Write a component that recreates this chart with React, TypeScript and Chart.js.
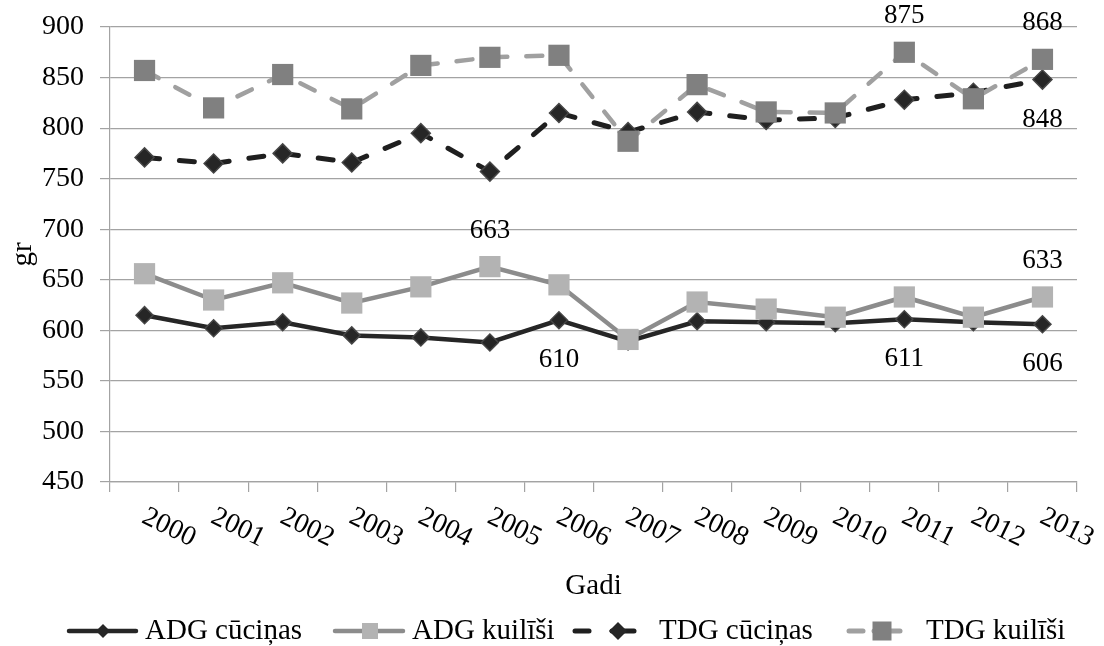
import React, { useEffect, useRef } from 'react';
import { Chart, registerables } from 'chart.js';

Chart.register(...registerables);

// ---- Data ----
const years = ['2000', '2001', '2002', '2003', '2004', '2005', '2006', '2007', '2008', '2009', '2010', '2011', '2012', '2013'];
const seriesNames = ['ADG cūciņas', 'ADG kuilīši', 'TDG cūciņas', 'TDG kuilīši'];
const adgCucinas = [615, 602, 608, 595, 593, 588, 610, 589, 609, 608, 607, 611, 608, 606];
const adgKuilisi = [656, 630, 647, 627, 643, 663, 645, 591, 628, 621, 613, 633, 613, 633];
const tdgCucinas = [771, 765, 775, 766, 795, 757, 815, 796, 816, 808, 810, 828, 835, 848];
const tdgKuilisi = [857, 820, 853, 819, 862, 870, 872, 787, 843, 816, 815, 875, 829, 868];
const yTickValues = [450, 500, 550, 600, 650, 700, 750, 800, 850, 900];
const xTitle = 'Gadi';
const yTitle = 'gr';
// data labels: series index, category index, placement
const labelSeries = [1, 0, 0, 0, 1, 3, 3, 2];
const labelIndex = [5, 6, 11, 13, 13, 11, 13, 13];
const labelPlace = ['above', 'below', 'below', 'below', 'above', 'above', 'above', 'below'];

const allSeries = [adgCucinas, adgKuilisi, tdgCucinas, tdgKuilisi];

const FONT_FAMILY = '"Liberation Serif", "Times New Roman", serif';
const GRID = '#a3a3a3';

function drawDiamond(ctx: CanvasRenderingContext2D, x: number, y: number, r: number, fill: string) {
  ctx.beginPath();
  ctx.moveTo(x, y - r);
  ctx.lineTo(x + r, y);
  ctx.lineTo(x, y + r);
  ctx.lineTo(x - r, y);
  ctx.closePath();
  ctx.fillStyle = fill;
  ctx.fill();
}

function drawSquare(ctx: CanvasRenderingContext2D, x: number, y: number, side: number, fill: string) {
  ctx.fillStyle = fill;
  ctx.fillRect(x - side / 2, y - side / 2, side, side);
}

function seg(ctx: CanvasRenderingContext2D, x1: number, x2: number, y: number, color: string, w: number) {
  ctx.beginPath();
  ctx.moveTo(x1, y);
  ctx.lineTo(x2, y);
  ctx.strokeStyle = color;
  ctx.lineWidth = w;
  ctx.lineCap = 'round';
  ctx.stroke();
}

const overlayPlugin = {
  id: 'overlay',
  afterDraw(chart: any) {
    const ctx: CanvasRenderingContext2D = chart.ctx;
    const xs = chart.scales.x;
    ctx.save();
    // rotated category labels
    ctx.font = `28px ${FONT_FAMILY}`;
    ctx.fillStyle = '#000';
    ctx.textAlign = 'left';
    ctx.textBaseline = 'alphabetic';
    years.forEach((yr, i) => {
      const px = xs.getPixelForValue(i);
      ctx.save();
      ctx.translate(px - 4, xs.top + 40);
      ctx.rotate((26 * Math.PI) / 180);
      ctx.fillText(yr, 0, 0);
      ctx.restore();
    });

    // data labels
    ctx.font = `27px ${FONT_FAMILY}`;
    ctx.textAlign = 'center';
    ctx.textBaseline = 'middle';
    labelSeries.forEach((s, k) => {
      const meta = chart.getDatasetMeta(s);
      const el = meta.data[labelIndex[k]];
      const v = allSeries[s][labelIndex[k]];
      const y = labelPlace[k] === 'above' ? el.y - 36 : el.y + 40;
      ctx.fillText(String(v), el.x, y);
    });

    // legend
    const ly = 631;
    ctx.font = `29px ${FONT_FAMILY}`;
    ctx.textAlign = 'left';
    ctx.textBaseline = 'middle';
    // item 1
    seg(ctx, 69, 136, ly, '#262626', 4.5);
    drawDiamond(ctx, 103, ly, 7, '#262626');
    ctx.fillStyle = '#000';
    ctx.fillText(seriesNames[0], 145, ly);
    // item 2
    seg(ctx, 335, 403, ly, '#8c8c8c', 4.5);
    drawSquare(ctx, 370, ly, 16, '#b3b3b3');
    ctx.fillStyle = '#000';
    ctx.fillText(seriesNames[1], 412, ly);
    // item 3
    seg(ctx, 575, 589, ly, '#1f1f1f', 5);
    seg(ctx, 612, 634, ly, '#1f1f1f', 5);
    drawDiamond(ctx, 618, ly, 9, '#262626');
    ctx.fillStyle = '#000';
    ctx.fillText(seriesNames[2], 659, ly);
    // item 4
    seg(ctx, 849, 863, ly, '#a0a0a0', 5);
    seg(ctx, 874, 900, ly, '#a0a0a0', 5);
    drawSquare(ctx, 882, ly, 19, '#808080');
    ctx.fillStyle = '#000';
    ctx.fillText(seriesNames[3], 926, ly);

    ctx.restore();
  },
};

export default function App() {
  const canvasRef = useRef<HTMLCanvasElement | null>(null);

  useEffect(() => {
    const canvas = canvasRef.current;
    if (!canvas) return;
    const font = { family: FONT_FAMILY, size: 28 };
    const chart = new Chart(canvas, {
      type: 'line',
      data: {
        labels: years,
        datasets: [
          {
            label: seriesNames[0],
            data: adgCucinas,
            borderColor: '#262626',
            borderWidth: 4.5,
            pointStyle: 'rectRot',
            pointRadius: 8.5,
            pointBackgroundColor: '#262626',
            pointBorderColor: '#454545',
            pointBorderWidth: 1.5,
            tension: 0,
            order: 3,
          },
          {
            label: seriesNames[1],
            data: adgKuilisi,
            borderColor: '#8c8c8c',
            borderWidth: 4.5,
            pointStyle: 'rect',
            pointRadius: 15,
            pointBackgroundColor: '#b3b3b3',
            pointBorderColor: '#b3b3b3',
            pointBorderWidth: 0,
            tension: 0,
            order: 2,
          },
          {
            label: seriesNames[2],
            data: tdgCucinas,
            borderColor: '#1f1f1f',
            borderWidth: 5,
            borderDash: [15, 20],
            borderCapStyle: 'round',
            pointStyle: 'rectRot',
            pointRadius: 9.5,
            pointBackgroundColor: '#262626',
            pointBorderColor: '#454545',
            pointBorderWidth: 1.5,
            tension: 0,
            order: 1,
          },
          {
            label: seriesNames[3],
            data: tdgKuilisi,
            borderColor: '#a0a0a0',
            borderWidth: 4.5,
            borderDash: [16, 19],
            borderCapStyle: 'round',
            pointStyle: 'rect',
            pointRadius: 15,
            pointBackgroundColor: '#808080',
            pointBorderColor: '#808080',
            pointBorderWidth: 0,
            tension: 0,
            order: 0,
          },
        ],
      },
      options: {
        animation: false,
        responsive: false,
        layout: { padding: { top: 27, right: 27, bottom: 42, left: 0 } },
        plugins: {
          legend: { display: false },
          tooltip: { enabled: false },
        },
        scales: {
          x: {
            type: 'category',
            offset: true,
            grid: {
              offset: true,
              drawOnChartArea: false,
              drawTicks: true,
              tickLength: 10,
              color: GRID,
              lineWidth: 1.2,
            },
            border: { display: true, color: GRID, width: 1.2 },
            ticks: { display: false },
            title: {
              display: true,
              text: xTitle,
              font: { family: FONT_FAMILY, size: 29 },
              color: '#000',
              padding: { top: 0, bottom: 0 },
            },
            afterFit: (s: any) => {
              s.height = 122;
            },
          },
          y: {
            min: 450,
            max: 900,
            afterBuildTicks: (s: any) => {
              s.ticks = yTickValues.map((v) => ({ value: v }));
            },
            ticks: { font, color: '#000', padding: 16 },
            grid: { color: GRID, tickLength: 10, drawTicks: true, lineWidth: 1.2 },
            border: { display: true, color: GRID, width: 1.2 },
            title: {
              display: true,
              text: yTitle,
              font: { family: FONT_FAMILY, size: 29 },
              color: '#000',
              padding: { top: 6, bottom: 0 },
            },
            afterFit: (s: any) => {
              s.width = 110;
              s.paddingTop = 0;
              s.paddingBottom = 0;
            },
          },
        },
      },
      plugins: [overlayPlugin],
    });
    return () => chart.destroy();
  }, []);

  return (
    <div style={{ position: 'fixed', left: 0, top: 0, width: 1104, height: 646, background: '#fff' }}>
      <canvas ref={canvasRef} width={1104} height={646} />
    </div>
  );
}
